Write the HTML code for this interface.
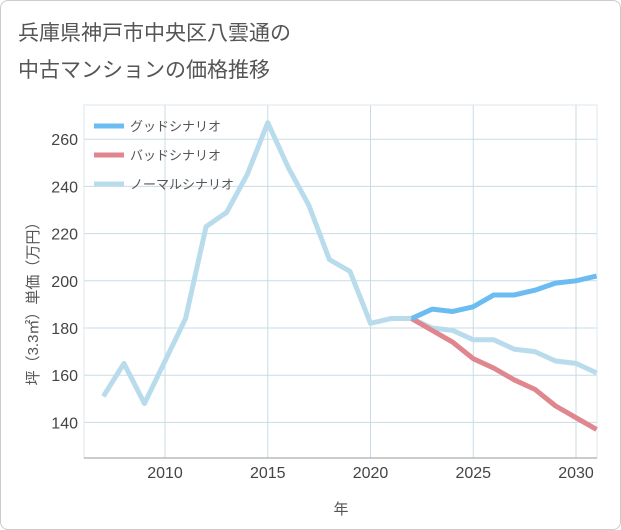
<!DOCTYPE html>
<html><head><meta charset="utf-8"><style>
body{margin:0;background:#fff;font-family:"Liberation Sans","Noto Sans CJK JP",sans-serif;}
#wrap{position:relative;width:619px;height:528px;border:1px solid #ccc;border-radius:8px;background:#fff;overflow:hidden}
</style></head><body>
<div id="wrap">
<svg id="chart" width="621" height="530" style="position:absolute;left:-1px;top:-1px">
<text x="18" y="40" font-size="21" fill="#555">兵庫県神戸市中央区八雲通の</text>
<text x="18" y="77" font-size="21" fill="#555">中古マンションの価格推移</text>
<g id="grid"></g><g id="series"></g><g id="axes"></g>
<g id="legend"></g>
<text x="341" y="514" font-size="15" fill="#555" text-anchor="middle">年</text>
<text transform="translate(38,300) rotate(-90)" font-size="15" fill="#555" text-anchor="middle">坪（3.3㎡）単価（万円）</text>
</svg></div>
<script>
const years=[2007,2008,2009,2010,2011,2012,2013,2014,2015,2016,2017,2018,2019,2020,2021,2022,2023,2024,2025,2026,2027,2028,2029,2030,2031];
const normal=[151,165,148,166,184,223,229,245,267,248,232,209,204,182,184,184,180,179,175,175,171,170,166,165,161];
const goodYears=[2022,2023,2024,2025,2026,2027,2028,2029,2030,2031];
const good=[184,188,187,189,194,194,196,199,200,202];
const bad=[184,179,174,167,163,158,154,147,142,137];
const xTicks=[2010,2015,2020,2025,2030];
const yTicks=[140,160,180,200,220,240,260];
const NS="http://www.w3.org/2000/svg";
const X0=84,X1=597,Y0=105,Y1=458;
const xs=y=>165+(y-2010)*20.55;
const ys=v=>328-(v-180)*2.36;
function mk(t,a,p){const e=document.createElementNS(NS,t);for(const k in a)e.setAttribute(k,a[k]);p.appendChild(e);return e;}
const grid=document.getElementById('grid'),axes=document.getElementById('axes'),ser=document.getElementById('series'),leg=document.getElementById('legend');
xTicks.forEach(t=>{const l=mk('line',{x1:xs(t),x2:xs(t),y1:Y0,y2:Y1,stroke:'#c8dbe6','stroke-width':1},grid);});
yTicks.forEach(t=>{const l=mk('line',{x1:X0,x2:X1,y1:ys(t),y2:ys(t),stroke:'#c8dbe6','stroke-width':1},grid);});
const fr=mk('rect',{x:X0,y:Y0,width:X1-X0,height:Y1-Y0,fill:'none',stroke:'#dbe7ee'},grid);

const xa=mk('line',{x1:X0,x2:X1,y1:Y1,y2:Y1,stroke:'#999','stroke-width':1},grid);

xTicks.forEach(t=>{const e=mk('text',{x:xs(t),y:478,'font-size':16,fill:'#444','text-anchor':'middle'},axes);e.textContent=t;});
yTicks.forEach(t=>{const e=mk('text',{x:78,y:ys(t)+6,'font-size':16,fill:'#444','text-anchor':'end'},axes);e.textContent=t;});
function line(xv,vals,col,name){const d=vals.map((v,i)=>(i?'L':'M')+xs(xv[i])+' '+ys(v)).join(' ');const p=mk('path',{d:d,fill:'none',stroke:col,'stroke-width':5,'stroke-linejoin':'round'},ser);}
line(years,normal,'#b9dced','normal-scenario-line');
line(goodYears,bad,'#e0868e','bad-scenario-line');
line(goodYears,good,'#6bbcf0','good-scenario-line');
[['グッドシナリオ','#6bbcf0'],['バッドシナリオ','#e0868e'],['ノーマルシナリオ','#b9dced']].forEach((it,i)=>{const y=126+i*29;
const l=mk('line',{x1:94,x2:124,y1:y,y2:y,stroke:it[1],'stroke-width':5},leg);
const t=mk('text',{x:130,y:y+5,'font-size':13,fill:'#555'},leg);t.textContent=it[0];});
</script></body></html>
